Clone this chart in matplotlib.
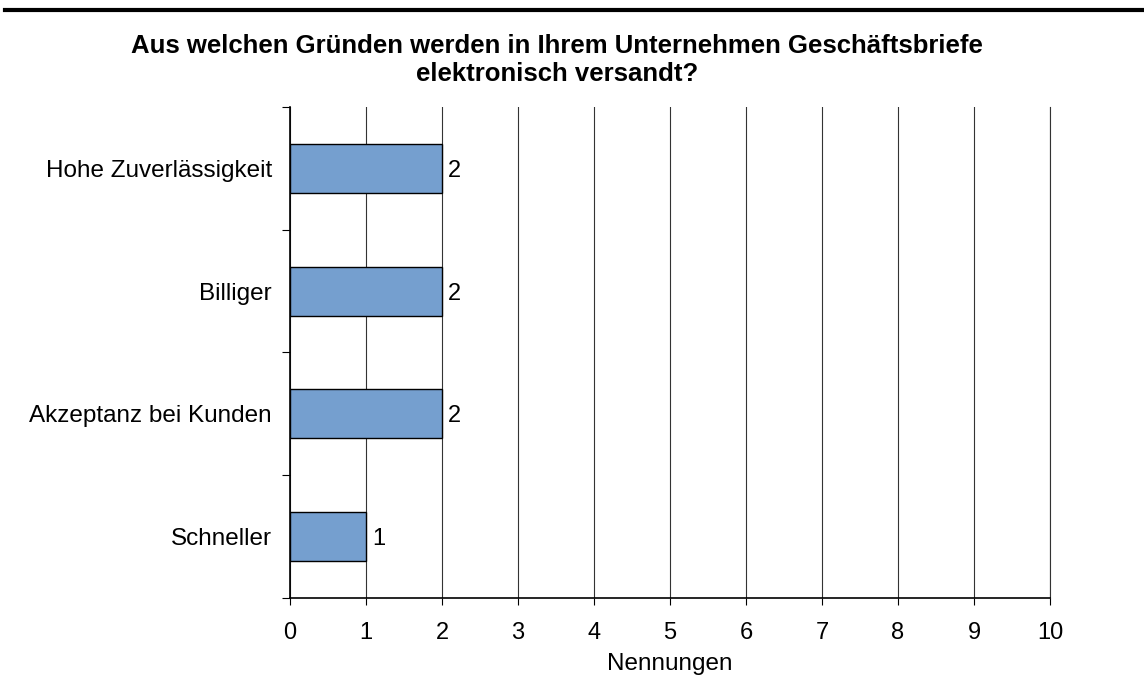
import numpy as np
import matplotlib.pyplot as plt

plt.rcParams['font.family'] = ['Liberation Sans', 'DejaVu Sans']

categories = ["Schneller", "Akzeptanz bei Kunden", "Billiger", "Hohe Zuverlässigkeit"]
values = [1, 2, 2, 2]
x_ticks = np.arange(0, 11, 1)

fig = plt.figure(figsize=(11.44, 6.91), dpi=100)
ax = fig.add_axes([0.2535, 0.1346, 0.6643, 0.7106])

y = np.arange(len(categories))
ax.barh(y, values, height=0.4, color="#759fcf", edgecolor="black", linewidth=1.0, zorder=3)
for yi, v in zip(y, values):
    ax.text(v + 0.08, yi - 0.02, str(v), va="center", ha="left", fontsize=17)

ax.set_xlim(0, 10)
ax.set_ylim(-0.5, len(categories) - 0.5)
ax.set_xticks(x_ticks)
ax.set_yticks(y)
ax.set_yticklabels(categories, fontsize=17.5)
ax.set_yticks(np.arange(-0.5, len(categories), 1), minor=True)
ax.tick_params(axis="y", which="major", length=0, pad=13)
ax.tick_params(axis="y", which="minor", length=6, direction="out", width=0.8)
ax.tick_params(axis="x", length=5, direction="out", width=0.8, labelsize=17, pad=12)

ax.grid(axis="x", color="#333333", linewidth=0.8, zorder=0)
ax.spines["top"].set_visible(False)
ax.spines["right"].set_color("#333333")
ax.spines["right"].set_linewidth(0.8)
ax.spines["left"].set_linewidth(1.2)
ax.spines["bottom"].set_linewidth(1.2)
ax.set_xlabel("Nennungen", fontsize=17.5, labelpad=7)

fig.text(0.487, 0.913, "Aus welchen Gründen werden in Ihrem Unternehmen Geschäftsbriefe\nelektronisch versandt?",
         ha="center", va="center", fontsize=18.5, fontweight="bold", linespacing=1.2)

# top rule
fig.add_artist(plt.Line2D([0.004, 1.0], [0.985, 0.985], color="black", linewidth=3, transform=fig.transFigure))

fig.savefig("out.png", dpi=100)
